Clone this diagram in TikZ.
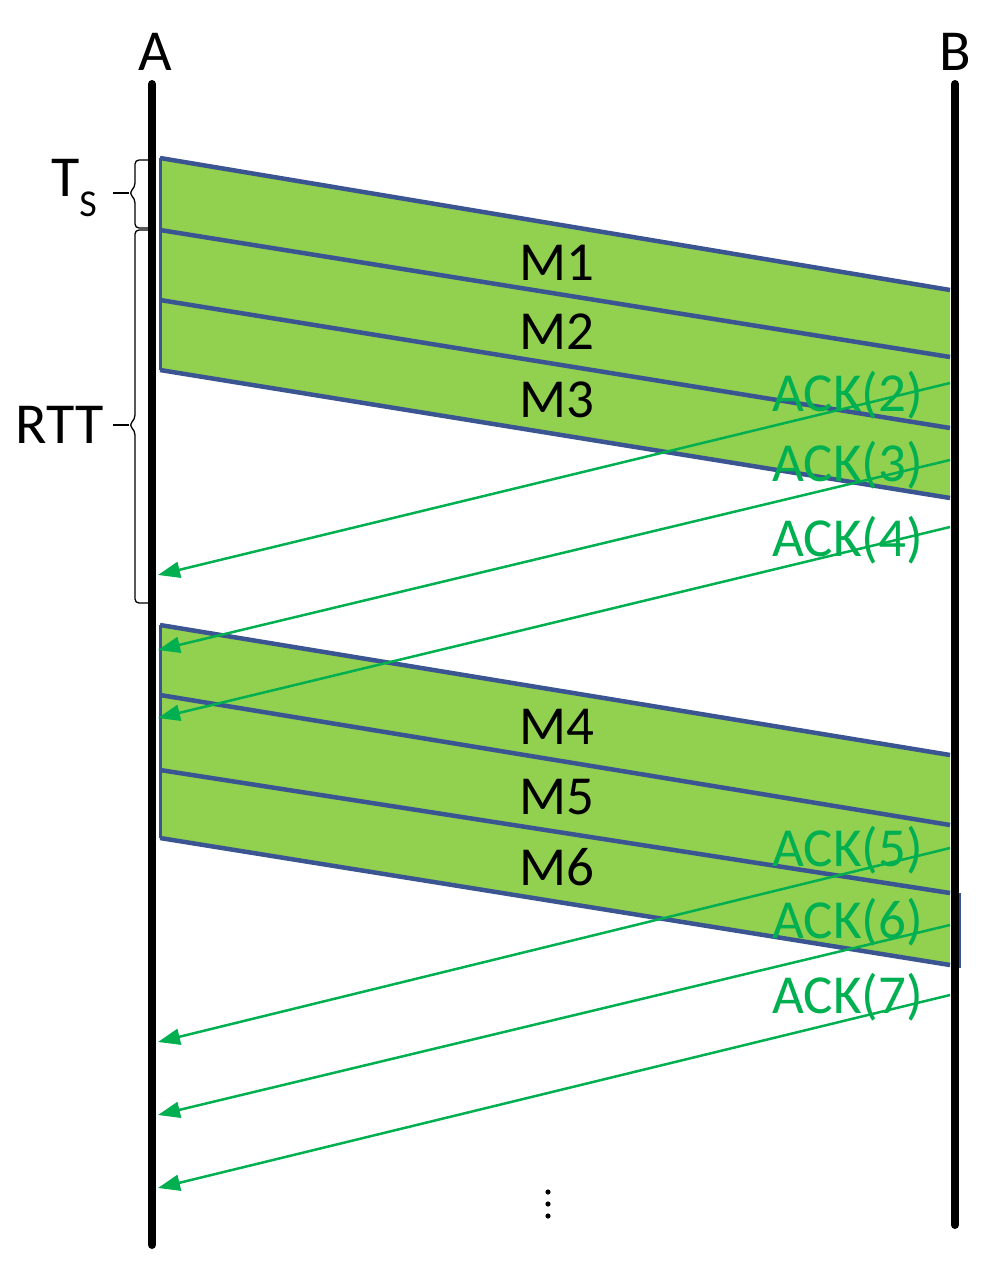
\documentclass[tikz,border=0pt]{standalone}
\usepackage{fontspec}
\setmainfont{Carlito}
\usetikzlibrary{arrows.meta}
\definecolor{bandgreen}{HTML}{92D050}
\definecolor{bandblue}{HTML}{3A5591}
\definecolor{ackgreen}{HTML}{00B050}
\tikzset{
  lifeline/.style={line width=8pt, line cap=round, black},
  band/.style={fill=bandgreen, draw=none},
  bandline/.style={draw=bandblue, line width=4.5pt},
  ack/.style={draw=ackgreen, line width=2.5pt, -{Triangle[length=22pt,width=16pt]}},
  acklabel/.style={text=ackgreen, font=\fontsize{55}{60}\selectfont, anchor=east, inner sep=0pt},
  mlabel/.style={font=\fontsize{55}{60}\selectfont, inner sep=0pt},
  bigtext/.style={font=\fontsize{58}{62}\selectfont, inner sep=0pt},
  bracestyle/.style={draw=black, line width=1.3pt, rounded corners=4pt}
}
\begin{document}
\begin{tikzpicture}[x=1pt,y=-1pt]
\useasboundingbox (0,0) rectangle (999,1284);

% bands
\fill[band] (160,158) -- (950,290) -- (950,498) -- (160,370) -- cycle;
\fill[band] (160,625) -- (950,755) -- (950,965) -- (160,838) -- cycle;
\draw[bandblue, line width=3pt] (160,158) -- (160,370);
\draw[bandblue, line width=3pt] (160,625) -- (160,838);
\draw[bandblue, line width=3pt] (959,893) -- (959,968);

\foreach \yl/\yr in {158/290, 230/357, 300/428, 370/498, 625/755, 695/825, 770/893, 838/965}
  \draw[bandline] (160,\yl) -- (950,\yr);

% lifelines
\node[bigtext] (A) at (155,52) {A};
\node[bigtext] (B) at (955,52) {B};
\coordinate (Atop) at (152,84);
\coordinate (Abot) at (152,1245);
\coordinate (Btop) at (955,84);
\coordinate (Bbot) at (955,1225);
\draw[lifeline] (Atop) -- (Abot);
\draw[lifeline] (Btop) -- (Bbot);

% message labels
\node[mlabel] (m1) at (557,263) {M1};
\node[mlabel] (m2) at (557,332) {M2};
\node[mlabel] (m3) at (557,400) {M3};
\node[mlabel] (m4) at (557,727) {M4};
\node[mlabel] (m5) at (557,797) {M5};
\node[mlabel] (m6) at (557,867) {M6};

% acks
\coordinate (b2) at (950,383);  \coordinate (a2) at (158,575);
\coordinate (b3) at (950,460);  \coordinate (a3) at (158,650);
\coordinate (b4) at (950,527);  \coordinate (a4) at (158,718);
\coordinate (b5) at (950,848);  \coordinate (a5) at (158,1042);
\coordinate (b6) at (950,925);  \coordinate (a6) at (158,1115);
\coordinate (b7) at (950,995);  \coordinate (a7) at (158,1188);
\draw[ack] (b2) -- (a2);
\draw[ack] (b3) -- (a3);
\draw[ack] (b4) -- (a4);
\draw[ack] (b5) -- (a5);
\draw[ack] (b6) -- (a6);
\draw[ack] (b7) -- (a7);

\node[acklabel] (l2) at (923,395) {ACK(2)};
\node[acklabel] (l3) at (923,465) {ACK(3)};
\node[acklabel] (l4) at (923,540) {ACK(4)};
\node[acklabel] (l5) at (923,850) {ACK(5)};
\node[acklabel] (l6) at (923,922) {ACK(6)};
\node[acklabel] (l7) at (923,997) {ACK(7)};

% braces
\draw[bracestyle] (148,160) -| (135,187) -- (129,193) -- (135,199) |- (148,228);
\draw[black, line width=1.3pt] (113,193) -- (129,193);
\draw[bracestyle] (148,230) -| (135,419) -- (129,425) -- (135,431) |- (148,603);
\draw[black, line width=1.3pt] (113,425) -- (129,425);

\node[bigtext, anchor=east] (ts) at (97,188) {T\raisebox{-0.35em}{\fontsize{38}{40}\selectfont S}};
\node[bigtext, anchor=east] (rtt) at (104,425) {RTT};

% continuation dots
\foreach \yy in {1192,1204,1216}
  \fill (548,\yy) circle (2.6pt);
\end{tikzpicture}
\end{document}
